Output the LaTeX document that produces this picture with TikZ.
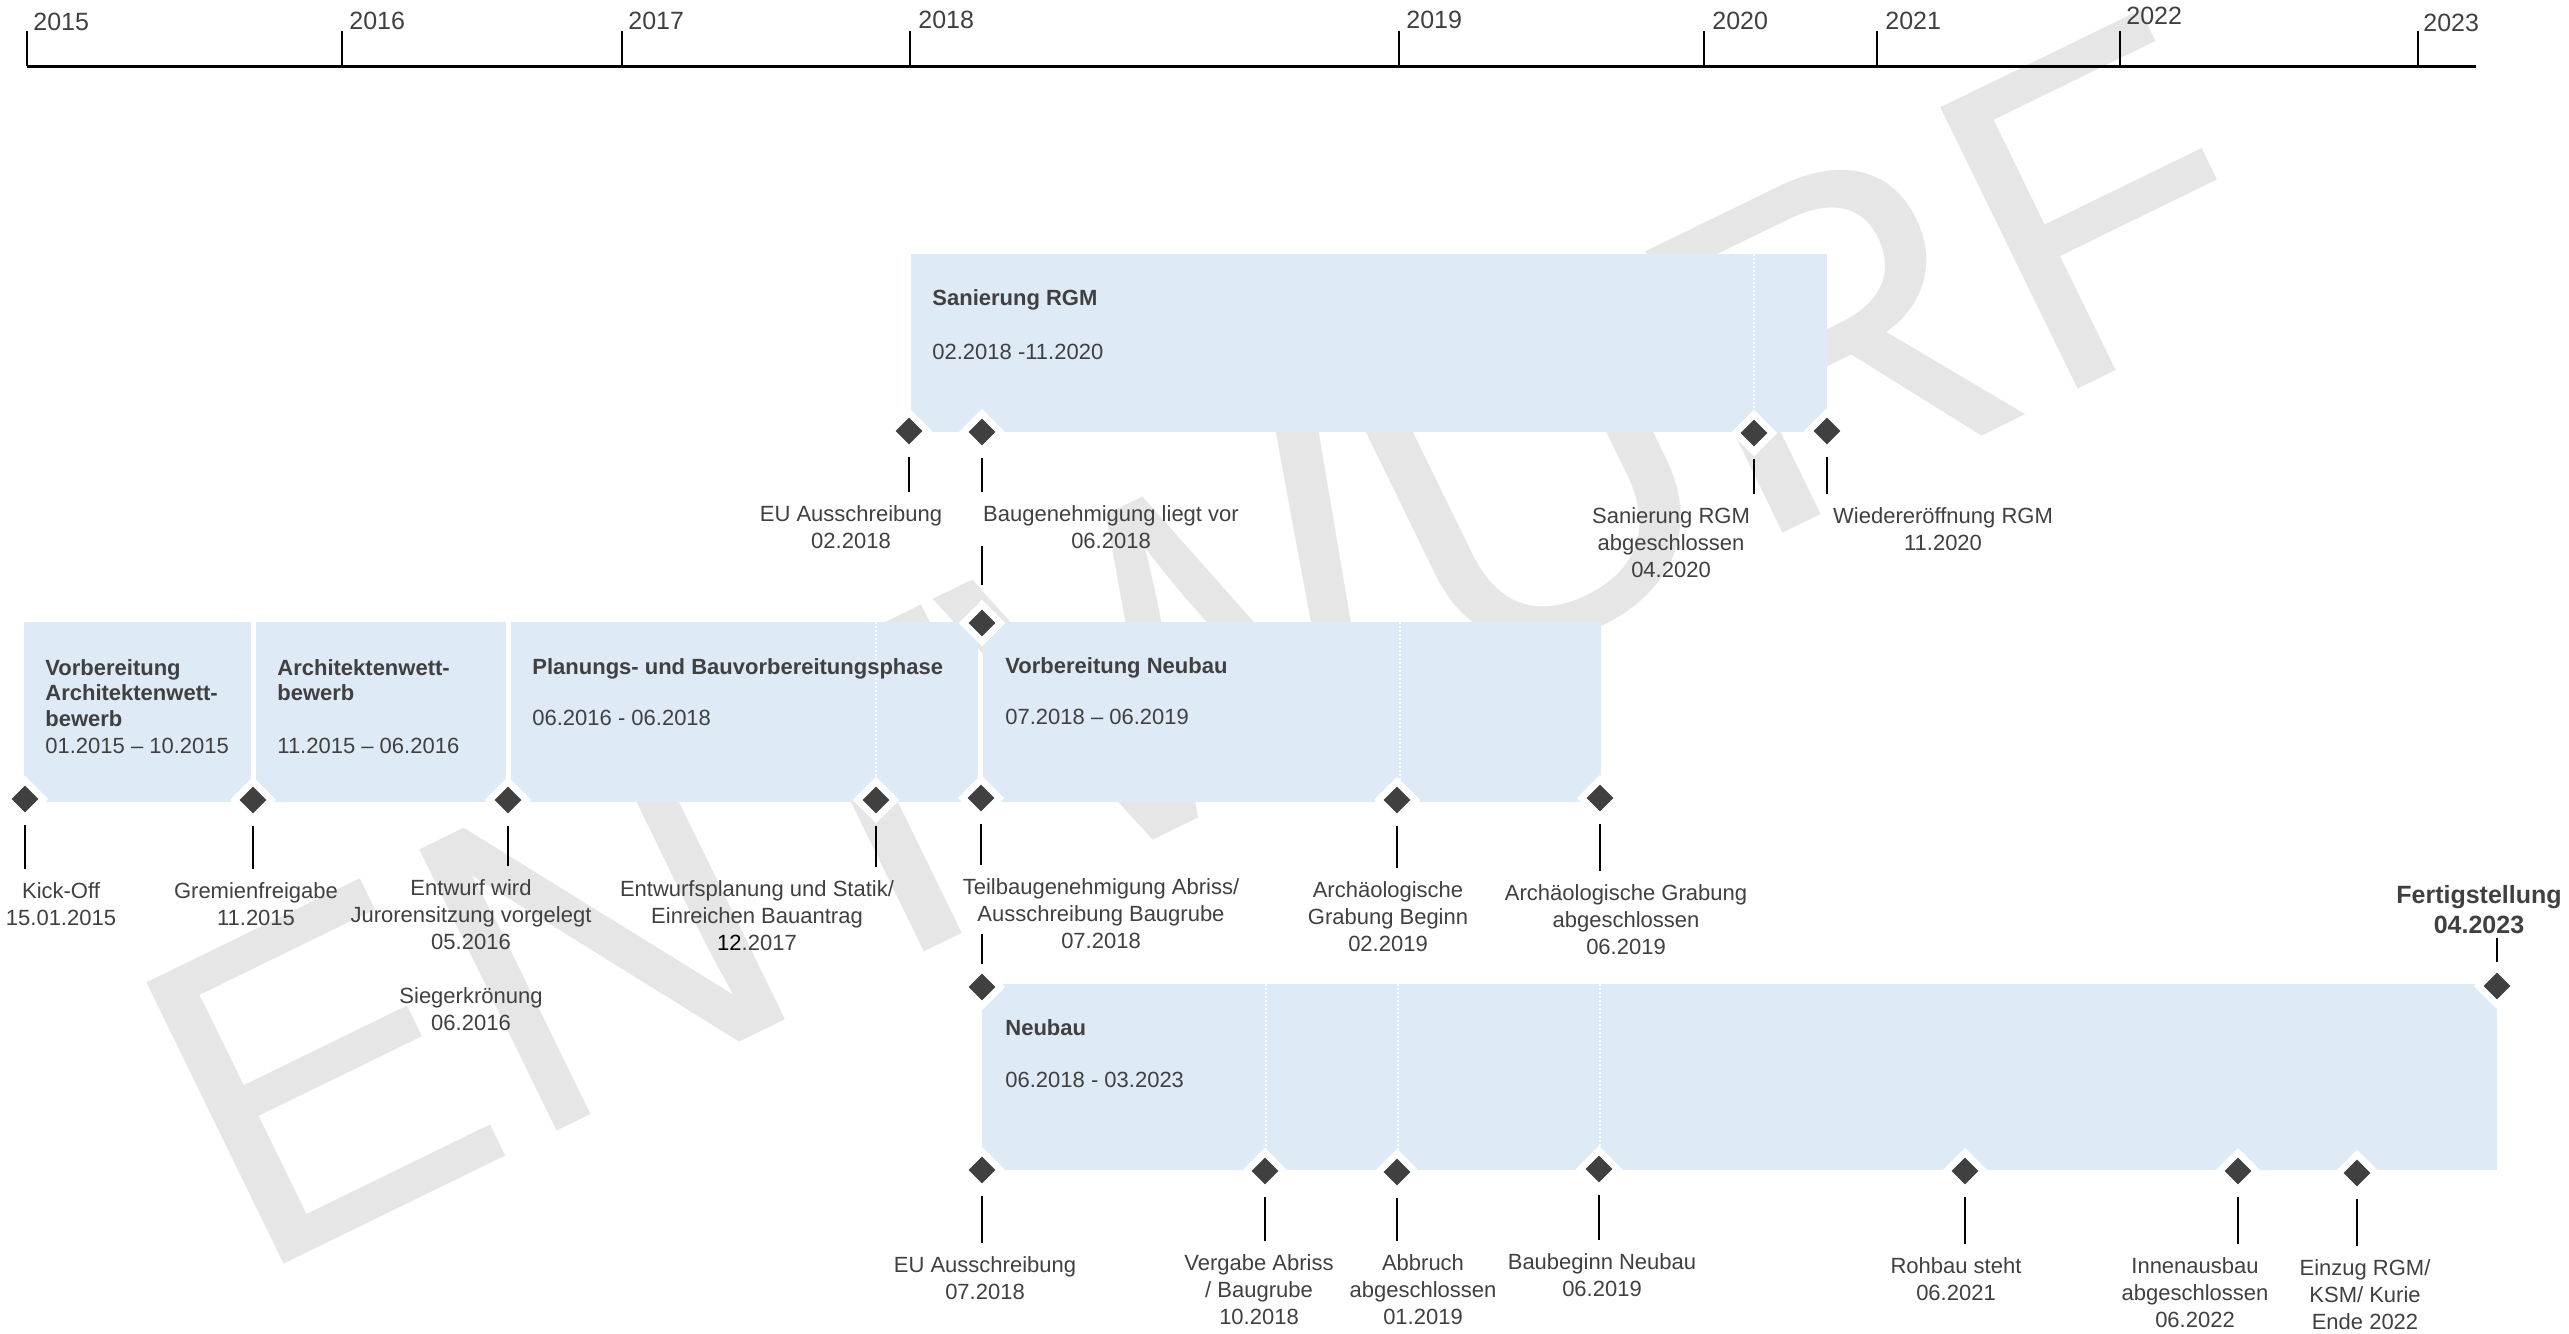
\documentclass[tikz,border=0pt]{standalone}
\usepackage{fontspec}
\setmainfont{Liberation Sans}
\usetikzlibrary{shapes.geometric}
\definecolor{txt}{HTML}{404040}
\definecolor{barfill}{HTML}{DEEAF6}
\definecolor{wm}{HTML}{E6E6E6}
\definecolor{dia}{HTML}{404040}
\begin{document}
\begin{tikzpicture}[x=0.5pt,y=-0.5pt,
  bar/.style={fill=barfill, draw=none},
  sepline/.style={draw=white, line width=0.75pt, dash pattern=on 1pt off 1pt},
  ms/.style={shape=diamond, fill=dia, minimum width=13.5pt, minimum height=13.5pt, inner sep=0pt, preaction={draw=white, line width=7pt}},
  thinline/.style={draw=black, line width=0.75pt},
  conn/.style={thinline, shorten <=6pt, shorten >=6.5pt},
  lab/.style={anchor=north, align=center, inner sep=0pt, text=txt, font=\fontsize{11}{13.5}\selectfont},
  ttl/.style={anchor=north west, align=left, inner sep=0pt, text=txt, font=\fontsize{11}{12.75}\selectfont\bfseries},
  dat/.style={anchor=north west, inner sep=0pt, text=txt, font=\fontsize{11}{13.5}\selectfont},
  yr/.style={anchor=base west, inner sep=0pt, text=txt, font=\fontsize{12.5}{15}\selectfont},
  axisline/.style={draw=black, line width=1.5pt},
]
\fill[white] (0,0) rectangle (2569,1333);
\useasboundingbox (0,0) rectangle (2569,1333);

% watermark
\node[rotate=26, anchor=base west, inner sep=0pt, text=wm, font=\fontsize{227.5}{230}\selectfont] (wmark) at (250,1281) {ENTWURF};

% time axis
\draw[axisline] (27,66) -- (2476,66);
\foreach \x in {27,342,622,910,1399,1704,1877,2120,2418} \draw[thinline] (\x,31) -- (\x,66);
\node[yr] (y2015) at (33,31) {2015};
\node[yr] (y2016) at (349,29) {2016};
\node[yr] (y2017) at (628,29) {2017};
\node[yr] (y2018) at (918,28) {2018};
\node[yr] (y2019) at (1406,28) {2019};
\node[yr] (y2020) at (1712,29) {2020};
\node[yr] (y2021) at (1885,29) {2021};
\node[yr] (y2022) at (2126,25) {2022};
\node[yr] (y2023) at (2423,32) {2023};

% bars
\fill[bar] (911,254) rectangle (1827,432);
\fill[bar] (24,622) rectangle (251,802);
\fill[bar] (256,622) rectangle (506,802);
\fill[bar] (511,622) rectangle (978,802);
\fill[bar] (983,622) rectangle (1601,802);
\fill[bar] (982,984) rectangle (2497,1170);

% dotted separators
\draw[sepline] (1754,254) -- (1754,432);
\draw[sepline] (876,622) -- (876,802);
\draw[sepline] (1400,622) -- (1400,802);
\draw[sepline] (1266,984) -- (1266,1170);
\draw[sepline] (1398,984) -- (1398,1170);
\draw[sepline] (1600,984) -- (1600,1170);

% bar texts
\node[ttl] (t1) at (932,289) {Sanierung RGM};
\node[dat] (d1) at (932,344) {02.2018 -11.2020};
\node[ttl] (t2) at (45,659) {Vorbereitung\\Architektenwett-\\bewerb};
\node[dat] (d2) at (45,738) {01.2015 – 10.2015};
\node[ttl] (t3) at (277,659) {Architektenwett-\\bewerb};
\node[dat] (d3) at (277,738) {11.2015 – 06.2016};
\node[ttl] (t4) at (532,658) {Planungs- und Bauvorbereitungsphase};
\node[dat] (d4) at (532,710) {06.2016 - 06.2018};
\node[ttl] (t5) at (1005,657) {Vorbereitung Neubau};
\node[dat] (d5) at (1005,709) {07.2018 – 06.2019};
\node[ttl] (t6) at (1005,1019) {Neubau};
\node[dat] (d6) at (1005,1072) {06.2018 - 03.2023};

% milestones row 1
\node[ms] (m1) at (909,431) {};
\node[ms] (m2) at (982,432) {};
\node[ms] (m4) at (1754,433) {};
\node[ms] (m5) at (1827,431) {};
% row 2
\node[ms] (m3) at (982,623) {};
\node[ms] (k1) at (25,799) {};
\node[ms] (k2) at (253,800) {};
\node[ms] (k3) at (508,800) {};
\node[ms] (k4) at (876,800) {};
\node[ms] (k5) at (981,798) {};
\node[ms] (k6) at (1397,800) {};
\node[ms] (k7) at (1600,798) {};
% row 3
\node[ms] (n1) at (982,987) {};
\node[ms] (f) at (2497,986) {};
\node[ms] (b1) at (982,1170) {};
\node[ms] (b2) at (1265,1171) {};
\node[ms] (b3) at (1397,1172) {};
\node[ms] (b4) at (1599,1169) {};
\node[ms] (b5) at (1965,1171) {};
\node[ms] (b6) at (2238,1171) {};
\node[ms] (b7) at (2357,1173) {};

% labels
\node[lab] (m1l) at (851,505) {EU Ausschreibung\\02.2018};
\node[lab] (m2l) at (1111,505) {Baugenehmigung liegt vor\\06.2018};
\node[lab] (m4l) at (1671,507) {Sanierung RGM\\abgeschlossen\\04.2020};
\node[lab] (m5l) at (1943,507) {Wiedereröffnung RGM\\11.2020};

\node[lab] (k1l) at (61,882) {Kick-Off\\15.01.2015};
\node[lab] (k2l) at (256,882) {Gremienfreigabe\\11.2015};
\node[lab] (k3l) at (471,879) {Entwurf wird\\Jurorensitzung vorgelegt\\05.2016};
\node[lab] (k3s) at (471,987) {Siegerkrönung\\06.2016};
\node[lab] (k4l) at (757,880) {Entwurfsplanung und Statik/\\Einreichen Bauantrag\\{\color{black}12}.2017};
\node[lab] (k5l) at (1101,878) {Teilbaugenehmigung Abriss/\\Ausschreibung Baugrube\\07.2018};
\node[lab] (k6l) at (1388,881) {Archäologische\\Grabung Beginn\\02.2019};
\node[lab] (k7l) at (1626,884) {Archäologische Grabung\\abgeschlossen\\06.2019};

\node[lab, font=\fontsize{12.5}{15}\selectfont\bfseries] (fl) at (2479,885) {Fertigstellung\\04.2023};
\node[lab] (b1l) at (985,1256) {EU Ausschreibung\\07.2018};
\node[lab] (b2l) at (1259,1254) {Vergabe Abriss\\/ Baugrube\\10.2018};
\node[lab] (b3l) at (1423,1254) {Abbruch\\abgeschlossen\\01.2019};
\node[lab] (b4l) at (1602,1253) {Baubeginn Neubau\\06.2019};
\node[lab] (b5l) at (1956,1257) {Rohbau steht\\06.2021};
\node[lab] (b6l) at (2195,1257) {Innenausbau\\abgeschlossen\\06.2022};
\node[lab] (b7l) at (2365,1259) {Einzug RGM/\\KSM/ Kurie\\Ende 2022};

% connectors
\foreach \m in {m1,m2,m4,m5,k1,k2,k3,k4,k5,k6,k7,b1,b2,b3,b4,b5,b6,b7}
  \draw[conn] (\m.south) -- (\m.south |- \m l.north);
\draw[thinline, shorten <=12.25pt, shorten >=-1.5pt] (m3.north) -- (m3.north |- m2l.south);
\draw[thinline, shorten <=4.75pt, shorten >=-7.5pt] (n1.north) -- (n1.north |- k5l.south);
\draw[thinline, shorten <=5pt, shorten >=2pt] (f.north) -- (f.north |- fl.south);
\end{tikzpicture}
\end{document}
